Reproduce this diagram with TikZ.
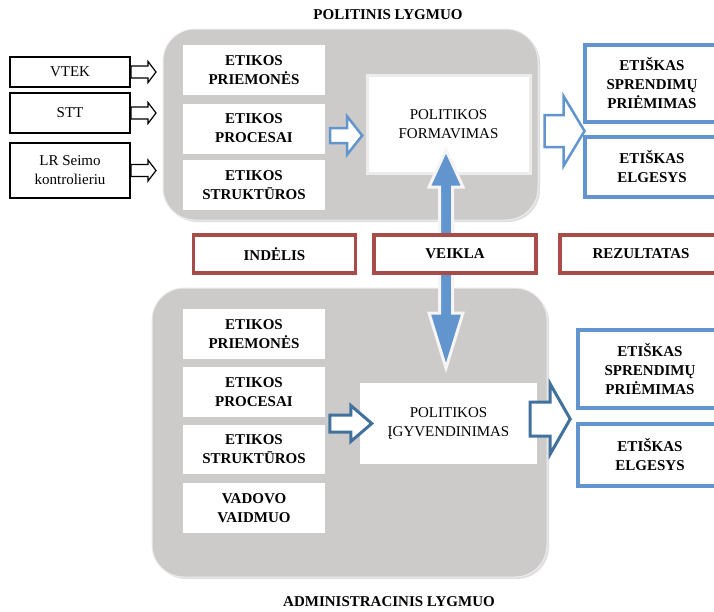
\documentclass[tikz,border=0pt]{standalone}
\usepackage{fontspec}
\setmainfont{Liberation Serif}
\usetikzlibrary{shadows}
\definecolor{panelgray}{RGB}{204,203,202}
\definecolor{lightblue}{RGB}{98,149,205}
\definecolor{darkblue}{RGB}{65,113,156}
\definecolor{brickred}{RGB}{168,76,73}
\def\txt{\fontsize{15}{19}\selectfont}
\tikzstyle{panel}=[fill=panelgray,draw=white!85!gray,line width=1,rounded corners=32,drop shadow={opacity=0.25,shadow xshift=2pt,shadow yshift=-2pt}]
\tikzstyle{title}=[font=\txt\bfseries]
\tikzstyle{srcbox}=[draw=black,line width=2,fill=white,minimum width=120,align=center,font=\txt]
\tikzstyle{whitebox}=[fill=white,minimum width=142,minimum height=50,align=center,font=\txt\bfseries]
\tikzstyle{procbox}=[fill=white,align=center,font=\txt]
\tikzstyle{outbox}=[draw=lightblue,line width=3.5,fill=white,align=center,font=\txt\bfseries]
\tikzstyle{midbox}=[draw=brickred,line width=3.5,fill=white,minimum width=162,minimum height=38,font=\txt\bfseries]
\tikzstyle{smallarr}=[draw=black,fill=white,line width=1.2]
\tikzstyle{bluearr}=[draw=lightblue,fill=white,line width=2.5]
\tikzstyle{darkarr}=[draw=darkblue,fill=white,line width=3]
\tikzstyle{vertarr}=[fill=lightblue,draw=white!92!gray,line width=3]
% #1 style, #2 start, #3 length, #4 body half, #5 head half, #6 head length
\def\fatarrow#1#2#3#4#5#6{\draw[#1] (#2) --++ (0,-#4) --++ (#3-#6,0) --++ (0,#4-#5) --++ (#6,#5) --++ (-#6,#5) --++ (0,#4-#5) --++ (#6-#3,0) -- cycle}

\begin{document}
\begin{tikzpicture}[x=1pt,y=-1pt]
    \useasboundingbox (0,0) rectangle (714,611);
    \clip (0,0) rectangle (714,611);

    \draw[panel] (163,29) rectangle (538,220);
    \draw[panel] (152,288) rectangle (547,577);

    \node[title] (ptitle) at (388,15) {POLITINIS LYGMUO};
    \node[title] (atitle) at (389,602) {ADMINISTRACINIS LYGMUO};

    % politinis lygmuo
    \node[srcbox,minimum height=30] (vtek) at (70,72) {VTEK};
    \node[srcbox,minimum height=40] (stt) at (70,113) {STT};
    \node[srcbox,minimum height=55] (lrsk) at (70,170.5) {LR Seimo\\kontrolieriu};

    \node[whitebox] (tprm) at (254,70) {ETIKOS\\PRIEMONĖS};
    \node[whitebox] (tprc) at (254,128.5) {ETIKOS\\PROCESAI};
    \node[whitebox] (tstr) at (254,185) {ETIKOS\\STRUKTŪROS};
    \node[procbox,draw=gray!15,line width=3,minimum width=163,minimum height=98] (form) at (448.5,124) {POLITIKOS\\FORMAVIMAS};

    \node[outbox,minimum width=134,minimum height=77] (tdec) at (652,83.5) {ETIŠKAS\\SPRENDIMŲ\\PRIĖMIMAS};
    \node[outbox,minimum width=134,minimum height=60] (tbeh) at (652,167) {ETIŠKAS\\ELGESYS};

    \fatarrow{smallarr}{vtek.east}{25}{6}{10.5}{8};
    \fatarrow{smallarr}{stt.east}{25}{6}{10.5}{8};
    \fatarrow{smallarr}{lrsk.east}{25}{6}{10.5}{8};
    \fatarrow{bluearr}{[xshift=5pt,yshift=-7pt]tprc.east}{32}{7.5}{19}{15};
    \fatarrow{bluearr}{[xshift=13pt,yshift=-7pt]form.east}{40}{16}{35}{21};

    % administracinis lygmuo
    \node[whitebox] (bprm) at (254,334) {ETIKOS\\PRIEMONĖS};
    \node[whitebox] (bprc) at (254,392) {ETIKOS\\PROCESAI};
    \node[whitebox,minimum height=49] (bstr) at (254,449.5) {ETIKOS\\STRUKTŪROS};
    \node[whitebox] (bvad) at (254,508) {VADOVO\\VAIDMUO};
    \node[procbox,minimum width=177,minimum height=81] (impl) at (448.5,423.5) {POLITIKOS\\ĮGYVENDINIMAS};

    \node[outbox,minimum width=144,minimum height=78] (bdec) at (650,369) {ETIŠKAS\\SPRENDIMŲ\\PRIĖMIMAS};
    \node[outbox,minimum width=144,minimum height=62] (bbeh) at (650,455) {ETIŠKAS\\ELGESYS};

    \fatarrow{darkarr}{[xshift=-30pt]impl.west}{42}{8.5}{18}{21};
    \fatarrow{darkarr}{[xshift=-7pt,yshift=4.5pt]impl.east}{40}{17}{35}{20};

    % dvipusė rodyklė
    \coordinate (vtop) at (446,150);
    \coordinate (vbot) at (446,368);
    \draw[vertarr] (vtop) --++ (17,37) --++ (-10.5,0) --++ (0,126) --++ (10.5,0) -- (vbot)
        --++ (-17,-55) --++ (10.5,0) --++ (0,-126) --++ (-10.5,0) -- cycle;

    \node[midbox] (ind) at (274.5,254) {INDĖLIS};
    \node[midbox] (veik) at (455,254) {VEIKLA};
    \node[midbox] (rez) at (641,254) {REZULTATAS};
\end{tikzpicture}
\end{document}
